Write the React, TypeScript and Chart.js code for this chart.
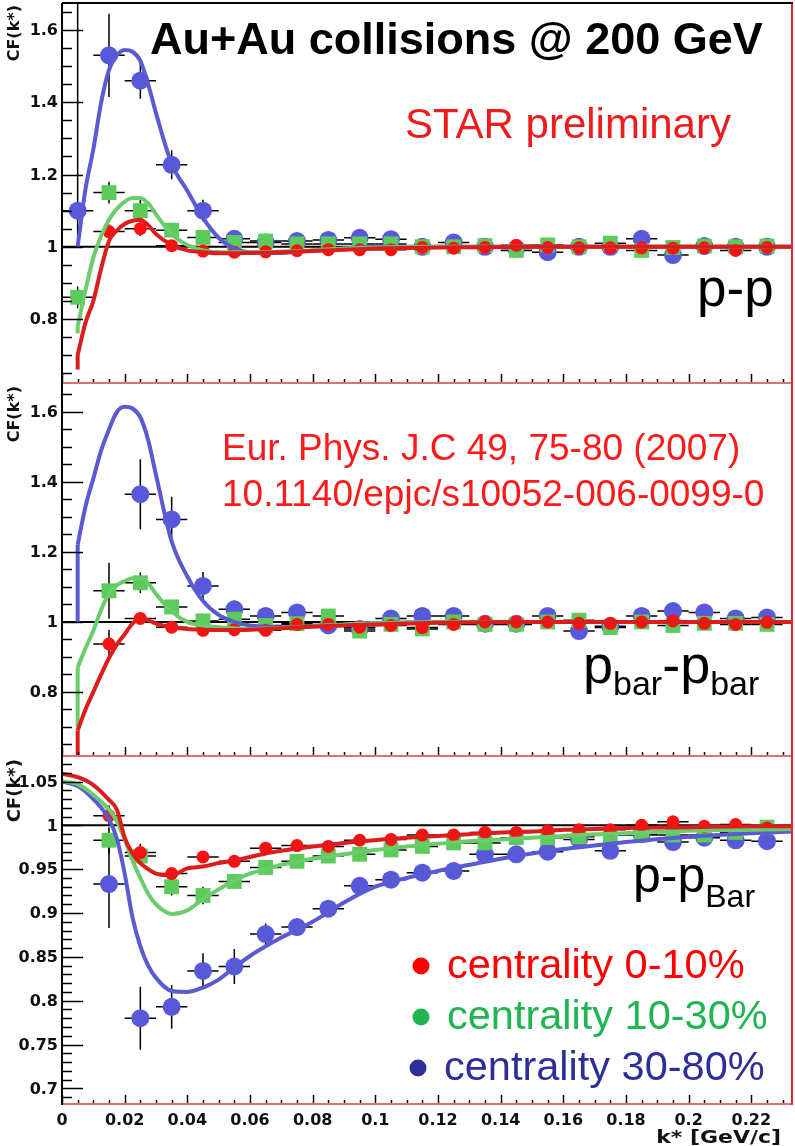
import React, { useEffect, useRef } from 'react';
import { Chart, registerables } from 'chart.js';

Chart.register(...registerables);

// ---------- shared axis data ----------
const K_CENTERS = [0.005, 0.015, 0.025, 0.035, 0.045, 0.055, 0.065, 0.075, 0.085, 0.095, 0.105, 0.115, 0.125, 0.135, 0.145, 0.155, 0.165, 0.175, 0.185, 0.195, 0.205, 0.215, 0.225];
const BIN_HALF_WIDTH = 0.005;
const X_MIN = 0;
const X_MAX = 0.2333;
const X_TICKS = [0, 0.02, 0.04, 0.06, 0.08, 0.1, 0.12, 0.14, 0.16, 0.18, 0.2, 0.22];
const X_TICK_LABELS = ['0', '0.02', '0.04', '0.06', '0.08', '0.1', '0.12', '0.14', '0.16', '0.18', '0.2', '0.22'];
const Y_TICKS_TOP = [0.8, 1, 1.2, 1.4, 1.6];
const Y_TICK_LABELS_TOP = ['0.8', '1', '1.2', '1.4', '1.6'];
const Y_TICKS_BOTTOM = [0.7, 0.75, 0.8, 0.85, 0.9, 0.95, 1, 1.05];
const Y_TICK_LABELS_BOTTOM = ['0.7', '0.75', '0.8', '0.85', '0.9', '0.95', '1', '1.05'];

type Err = number | [number, number];

// ---------- panel 1: p-p ----------
const PP_RED = [null, 1.042, 1.05, 1.003, 0.988, 0.985, 0.986, 0.989, 0.992, 0.992, 0.992, 0.998, 0.996, 0.998, 1.004, 0.998, 0.997, 0.997, 0.997, 0.996, 0.997, 0.99, 0.998];
const PP_RED_ERR: Err[] = [0, 0.02, 0.02, 0.01, 0.006, 0.005, 0.005, 0.005, 0.005, 0.005, 0.005, 0.005, 0.005, 0.005, 0.005, 0.005, 0.005, 0.005, 0.005, 0.005, 0.005, 0.005, 0.005];
const PP_GREEN = [0.86, 1.15, 1.10, 1.046, 1.026, 1.012, 1.016, 1.008, 1.008, 1.008, 1.008, 1.0, 1.0, 1.003, 0.99, 1.005, 1.0, 1.01, 0.99, 0.998, 1.002, 1.0, 1.002];
const PP_GREEN_ERR: Err[] = [0.03, 0.03, 0.03, 0.015, 0.012, 0.008, 0.006, 0.006, 0.006, 0.006, 0.006, 0.006, 0.006, 0.006, 0.006, 0.006, 0.006, 0.006, 0.006, 0.006, 0.006, 0.006, 0.006];
const PP_BLUE = [1.10, 1.53, 1.46, 1.227, 1.10, 1.022, 1.012, 1.016, 1.019, 1.025, 1.021, 1.0, 1.012, 1.0, 0.995, 0.985, 1.0, 1.0, 1.022, 0.977, 1.002, 1.0, 1.0];
const PP_BLUE_ERR: Err[] = [[0.1, 0.6], 0.115, 0.05, 0.04, 0.03, 0.015, 0.008, 0.008, 0.008, 0.008, 0.008, 0.008, 0.008, 0.008, 0.008, 0.008, 0.008, 0.008, 0.008, 0.008, 0.008, 0.008, 0.008];
const PP_CURVE_K = [0.005, 0.0075, 0.01, 0.0125, 0.015, 0.0175, 0.02, 0.0225, 0.025, 0.0275, 0.03, 0.035, 0.04, 0.045, 0.05, 0.055, 0.06, 0.07, 0.08, 0.09, 0.1, 0.12, 0.15, 0.2, 0.2333];
const PP_CURVE_RED = [0.70, 0.79, 0.85, 0.94, 1.016, 1.045, 1.063, 1.072, 1.075, 1.06, 1.035, 1.005, 0.99, 0.985, 0.982, 0.982, 0.983, 0.985, 0.988, 0.992, 0.995, 0.998, 1.0, 1.0, 1.0];
const PP_CURVE_GREEN = [0.78, 0.88, 0.97, 1.03, 1.075, 1.105, 1.125, 1.135, 1.135, 1.12, 1.09, 1.035, 1.005, 0.99, 0.985, 0.985, 0.985, 0.987, 0.99, 0.995, 0.998, 1.0, 1.0, 1.0, 1.0];
const PP_CURVE_BLUE = [1.0, 1.16, 1.27, 1.40, 1.49, 1.53, 1.545, 1.54, 1.515, 1.45, 1.37, 1.23, 1.155, 1.08, 1.025, 0.995, 0.985, 0.983, 0.99, 0.995, 1.0, 1.0, 1.0, 1.0, 1.0];
// lower end of the vertical rise at the first bin [red, green, blue]
const PP_CURVE_START = [0.66, 0.76, 1.0];

// ---------- panel 2: pbar-pbar ----------
const PB_RED = [null, 0.937, 1.01, 0.985, 0.976, 0.978, 0.976, 0.993, 0.993, 0.985, 0.99, 0.984, 0.993, 1.0, 1.0, 1.0, 0.996, 0.996, 1.0, 1.003, 0.996, 0.993, 0.999];
const PB_RED_ERR: Err[] = [0, 0.04, 0.015, 0.008, 0.006, 0.006, 0.006, 0.006, 0.006, 0.006, 0.006, 0.006, 0.006, 0.006, 0.006, 0.006, 0.006, 0.006, 0.006, 0.006, 0.006, 0.006, 0.006];
const PB_GREEN = [null, 1.089, 1.112, 1.043, 1.003, 1.008, 0.99, 0.995, 1.017, 0.974, 0.993, 0.98, 1.0, 0.993, 0.993, 1.0, 1.005, 0.984, 1.0, 0.99, 0.996, 0.996, 0.993];
const PB_GREEN_ERR: Err[] = [0, 0.08, 0.03, 0.02, 0.015, 0.01, 0.008, 0.008, 0.008, 0.02, 0.008, 0.008, 0.008, 0.008, 0.008, 0.008, 0.008, 0.008, 0.008, 0.008, 0.008, 0.008, 0.008];
const PB_BLUE = [null, null, 1.365, 1.293, 1.103, 1.036, 1.017, 1.027, 0.99, 0.98, 1.01, 1.017, 1.017, 0.995, 0.995, 1.017, 0.974, 0.988, 1.017, 1.031, 1.027, 1.01, 1.013];
const PB_BLUE_ERR: Err[] = [0, 0, 0.1, 0.065, 0.04, 0.025, 0.01, 0.01, 0.01, 0.01, 0.01, 0.01, 0.01, 0.01, 0.01, 0.01, 0.01, 0.01, 0.01, 0.01, 0.01, 0.01, 0.01];
const PB_CURVE_K = [0.005, 0.0075, 0.01, 0.0125, 0.015, 0.0175, 0.02, 0.0225, 0.025, 0.0275, 0.03, 0.035, 0.04, 0.045, 0.05, 0.055, 0.06, 0.07, 0.08, 0.09, 0.1, 0.12, 0.15, 0.2, 0.2333];
const PB_CURVE_RED = [0.69, 0.75, 0.80, 0.85, 0.897, 0.935, 0.965, 0.995, 1.012, 1.005, 0.995, 0.985, 0.98, 0.978, 0.977, 0.977, 0.978, 0.982, 0.987, 0.99, 0.993, 0.998, 1.0, 1.0, 1.0];
const PB_CURVE_GREEN = [0.87, 0.925, 0.975, 1.035, 1.08, 1.105, 1.117, 1.125, 1.125, 1.11, 1.08, 1.03, 1.0, 0.99, 0.985, 0.982, 0.98, 0.983, 0.988, 0.993, 0.996, 1.0, 1.0, 1.0, 1.0];
const PB_CURVE_BLUE = [1.22, 1.33, 1.41, 1.49, 1.55, 1.6, 1.615, 1.61, 1.585, 1.52, 1.42, 1.23, 1.13, 1.06, 1.02, 1.0, 0.99, 0.985, 0.987, 0.992, 0.996, 1.0, 1.0, 1.0, 1.0];
const PB_CURVE_START = [0.6, 0.70, 1.0];

// ---------- panel 3: p-pbar ----------
const PAB_RED = [null, 1.011, 0.969, 0.945, 0.964, 0.959, 0.974, 0.977, 0.976, 0.983, 0.984, 0.989, 0.989, 0.992, 0.992, 0.994, 0.995, 0.995, 1.0, 1.004, 0.999, 1.001, 0.997];
const PAB_RED_ERR: Err[] = [0, 0.012, 0.01, 0.006, 0.005, 0.005, 0.004, 0.004, 0.004, 0.004, 0.004, 0.004, 0.004, 0.004, 0.004, 0.004, 0.004, 0.004, 0.004, 0.004, 0.004, 0.004, 0.004];
const PAB_GREEN = [null, 0.983, 0.965, 0.93, 0.92, 0.936, 0.952, 0.959, 0.965, 0.967, 0.972, 0.976, 0.98, 0.98, 0.986, 0.986, 0.987, 0.989, 0.989, 0.989, 0.989, 0.992, 0.998];
const PAB_GREEN_ERR: Err[] = [0, 0.015, 0.01, 0.01, 0.01, 0.006, 0.006, 0.005, 0.005, 0.005, 0.005, 0.005, 0.005, 0.005, 0.005, 0.005, 0.005, 0.005, 0.005, 0.005, 0.005, 0.005, 0.005];
const PAB_BLUE = [null, 0.933, 0.78, 0.793, 0.834, 0.839, 0.876, 0.884, 0.905, 0.931, 0.938, 0.946, 0.948, 0.967, 0.967, 0.97, 0.984, 0.971, 0.99, 0.981, 0.986, 0.983, 0.982];
const PAB_BLUE_ERR: Err[] = [0, 0.05, 0.036, 0.025, 0.02, 0.02, 0.012, 0.01, 0.007, 0.007, 0.007, 0.007, 0.007, 0.007, 0.007, 0.007, 0.007, 0.007, 0.007, 0.007, 0.007, 0.007, 0.007];
const PAB_CURVE_K = [0, 0.005, 0.01, 0.015, 0.0175, 0.02, 0.0225, 0.025, 0.0275, 0.03, 0.035, 0.04, 0.045, 0.05, 0.055, 0.06, 0.065, 0.07, 0.08, 0.09, 0.1, 0.11, 0.12, 0.13, 0.14, 0.15, 0.16, 0.17, 0.18, 0.2, 0.22, 0.2333];
const PAB_CURVE_RED = [1.059, 1.055, 1.046, 1.029, 1.018, 0.986, 0.968, 0.957, 0.95, 0.945, 0.943, 0.951, 0.953, 0.957, 0.96, 0.964, 0.968, 0.971, 0.976, 0.98, 0.983, 0.986, 0.988, 0.99, 0.992, 0.993, 0.995, 0.996, 0.997, 0.998, 0.999, 0.999];
const PAB_CURVE_GREEN = [1.05, 1.047, 1.035, 1.018, 1.005, 0.984, 0.96, 0.94, 0.922, 0.91, 0.899, 0.903, 0.916, 0.927, 0.937, 0.945, 0.95, 0.955, 0.962, 0.967, 0.972, 0.976, 0.979, 0.982, 0.984, 0.986, 0.988, 0.99, 0.991, 0.994, 0.995, 0.996];
const PAB_CURVE_BLUE = [1.05, 1.045, 1.03, 1.007, 0.985, 0.945, 0.895, 0.862, 0.84, 0.826, 0.811, 0.81, 0.815, 0.824, 0.838, 0.851, 0.862, 0.872, 0.89, 0.912, 0.93, 0.94, 0.948, 0.955, 0.962, 0.968, 0.973, 0.977, 0.981, 0.987, 0.991, 0.993];

const LEGEND_LABELS = ['centrality 0-10%', 'centrality 10-30%', 'centrality 30-80%'];

// ---------- styles ----------
const C_RED = '#ff1010';
const C_GREEN = '#5ccb5c';
const C_BLUE = '#5858da';
const L_RED = '#dd1c1c';
const L_GREEN = '#6acc6a';
const L_BLUE = '#5a5ad2';
const AXIS_FONT = 'bold 16px "DejaVu Sans"';
const ANN_FONT = '"Liberation Sans", Arial, sans-serif';

type Pt = { x: number; y: number };
type EPt = { x: number; y: number; e: Err };

function pointsOf(vals: (number | null)[], errs: Err[]) {
  const out: EPt[] = [];
  vals.forEach((v, i) => {
    if (v !== null) out.push({ x: K_CENTERS[i], y: v, e: errs[i] });
  });
  return out;
}
function curveOf(ks: number[], vals: number[]): Pt[] {
  return ks.map((x, i) => ({ x, y: vals[i] }));
}
function riseOf(ks: number[], vals: number[], start: number | undefined): Pt[] {
  if (start === undefined) return [];
  return [{ x: ks[0], y: start }, { x: ks[0], y: vals[0] }];
}

function drawText(ctx: CanvasRenderingContext2D, s: string, x: number, y: number, font: string, color: string, align: CanvasTextAlign = 'left', sx = 1) {
  ctx.save();
  ctx.font = font;
  ctx.fillStyle = color;
  ctx.textAlign = align;
  ctx.textBaseline = 'alphabetic';
  ctx.translate(x, y);
  ctx.scale(sx, 1);
  ctx.fillText(s, 0, 0);
  ctx.restore();
}

function drawParts(ctx: CanvasRenderingContext2D, parts: { t: string; size: number; dy: number }[], x: number, y: number, color: string) {
  let cx = x;
  ctx.save();
  ctx.fillStyle = color;
  ctx.textBaseline = 'alphabetic';
  ctx.textAlign = 'left';
  for (const p of parts) {
    ctx.font = `${p.size}px ${ANN_FONT}`;
    ctx.fillText(p.t, cx, y + p.dy);
    cx += ctx.measureText(p.t).width;
  }
  ctx.restore();
}

interface PanelDef {
  top: number;
  height: number;
  padTop: number;
  padBottom: number;
  yMin: number;
  yMax: number;
  yTicks: number[];
  yTickLabels: string[];
  yMinor: number;
  titleFont: string;
  red: EPt[];
  green: EPt[];
  blue: EPt[];
  cRed: Pt[];
  cGreen: Pt[];
  cBlue: Pt[];
  rRed: Pt[];
  rGreen: Pt[];
  rBlue: Pt[];
  topFrame: boolean;
  xLabels: boolean;
  extras: (ctx: CanvasRenderingContext2D) => void;
}

const PANELS: PanelDef[] = [
  {
    top: 0, height: 385, padTop: 3, padBottom: 1,
    yMin: 0.62, yMax: 1.675, yTicks: Y_TICKS_TOP, yTickLabels: Y_TICK_LABELS_TOP, yMinor: 0.05,
    titleFont: 'bold 16px "DejaVu Sans"',
    red: pointsOf(PP_RED, PP_RED_ERR), green: pointsOf(PP_GREEN, PP_GREEN_ERR), blue: pointsOf(PP_BLUE, PP_BLUE_ERR),
    cRed: curveOf(PP_CURVE_K, PP_CURVE_RED), cGreen: curveOf(PP_CURVE_K, PP_CURVE_GREEN), cBlue: curveOf(PP_CURVE_K, PP_CURVE_BLUE),
    rRed: riseOf(PP_CURVE_K, PP_CURVE_RED, PP_CURVE_START[0]), rGreen: riseOf(PP_CURVE_K, PP_CURVE_GREEN, PP_CURVE_START[1]), rBlue: riseOf(PP_CURVE_K, PP_CURVE_BLUE, PP_CURVE_START[2]),
    topFrame: true, xLabels: false,
    extras: (ctx) => {
      drawText(ctx, 'Au+Au collisions @ 200 GeV', 150, 54, `bold 45px ${ANN_FONT}`, '#000');
      drawText(ctx, 'STAR preliminary', 405, 138, `42px ${ANN_FONT}`, '#ee1c1c');
      drawParts(ctx, [{ t: 'p-p', size: 53, dy: 0 }], 697, 306, '#000');
    },
  },
  {
    top: 384, height: 374, padTop: 0, padBottom: 1,
    yMin: 0.614, yMax: 1.68, yTicks: Y_TICKS_TOP, yTickLabels: Y_TICK_LABELS_TOP, yMinor: 0.05,
    titleFont: 'bold 16px "DejaVu Sans"',
    red: pointsOf(PB_RED, PB_RED_ERR), green: pointsOf(PB_GREEN, PB_GREEN_ERR), blue: pointsOf(PB_BLUE, PB_BLUE_ERR),
    cRed: curveOf(PB_CURVE_K, PB_CURVE_RED), cGreen: curveOf(PB_CURVE_K, PB_CURVE_GREEN), cBlue: curveOf(PB_CURVE_K, PB_CURVE_BLUE),
    rRed: riseOf(PB_CURVE_K, PB_CURVE_RED, PB_CURVE_START[0]), rGreen: riseOf(PB_CURVE_K, PB_CURVE_GREEN, PB_CURVE_START[1]), rBlue: riseOf(PB_CURVE_K, PB_CURVE_BLUE, PB_CURVE_START[2]),
    topFrame: false, xLabels: false,
    extras: (ctx) => {
      drawText(ctx, 'Eur. Phys. J.C 49, 75-80 (2007)', 222, 460, `37px ${ANN_FONT}`, '#ff1a1a');
      drawText(ctx, '10.1140/epjc/s10052-006-0099-0', 222, 506, `37px ${ANN_FONT}`, '#ff1a1a');
      drawParts(ctx, [
        { t: 'p', size: 54, dy: 0 }, { t: 'bar', size: 34, dy: 12 },
        { t: '-p', size: 54, dy: 0 }, { t: 'bar', size: 34, dy: 12 },
      ], 583, 683, '#000');
    },
  },
  {
    top: 757, height: 389, padTop: 0, padBottom: 41,
    yMin: 0.681, yMax: 1.078, yTicks: Y_TICKS_BOTTOM, yTickLabels: Y_TICK_LABELS_BOTTOM, yMinor: 0.01,
    titleFont: 'bold 18px "DejaVu Sans"',
    red: pointsOf(PAB_RED, PAB_RED_ERR), green: pointsOf(PAB_GREEN, PAB_GREEN_ERR), blue: pointsOf(PAB_BLUE, PAB_BLUE_ERR),
    cRed: curveOf(PAB_CURVE_K, PAB_CURVE_RED), cGreen: curveOf(PAB_CURVE_K, PAB_CURVE_GREEN), cBlue: curveOf(PAB_CURVE_K, PAB_CURVE_BLUE),
    rRed: [], rGreen: [], rBlue: [],
    topFrame: false, xLabels: true,
    extras: (ctx) => {
      drawParts(ctx, [{ t: 'p-p', size: 50, dy: 0 }, { t: 'Bar', size: 32, dy: 15 }], 633, 892, '#000');
      const rows = [
        { c: '#ff0000', y: 978, bx: 421, tx: 447 },
        { c: '#1fb550', y: 1029, bx: 421, tx: 447 },
        { c: '#2c2f98', y: 1080, bx: 418, tx: 444 },
      ];
      rows.forEach((r, i) => {
        ctx.save();
        ctx.fillStyle = r.c;
        ctx.beginPath();
        ctx.arc(r.bx, r.y - 12, 8.5, 0, Math.PI * 2);
        ctx.fill();
        ctx.restore();
        drawText(ctx, LEGEND_LABELS[i], r.tx, r.y, `41.5px ${ANN_FONT}`, r.c);
      });
    },
  },
];

function makePlugin(p: PanelDef) {
  return {
    id: 'rootFrame',
    beforeDatasetsDraw(chart: any) {
      const { ctx, chartArea: a, scales } = chart;
      const xs = scales.x, ys = scales.y;
      ctx.save();
      ctx.beginPath();
      ctx.rect(a.left, a.top, a.right - a.left, a.bottom - a.top);
      ctx.clip();
      // y = 1 reference line
      ctx.strokeStyle = '#000';
      ctx.lineWidth = 2;
      const y1 = ys.getPixelForValue(1);
      ctx.beginPath();
      ctx.moveTo(a.left, y1);
      ctx.lineTo(a.right, y1);
      ctx.stroke();
      // error bars
      ctx.lineWidth = 1.5;
      chart.data.datasets.forEach((ds: any) => {
        if (!ds.isPoints) return;
        ds.data.forEach((pt: any) => {
          const lo = Array.isArray(pt.e) ? pt.e[0] : pt.e;
          const hi = Array.isArray(pt.e) ? pt.e[1] : pt.e;
          const px = xs.getPixelForValue(pt.x);
          const py = ys.getPixelForValue(pt.y);
          ctx.beginPath();
          ctx.moveTo(xs.getPixelForValue(pt.x - BIN_HALF_WIDTH), py);
          ctx.lineTo(xs.getPixelForValue(pt.x + BIN_HALF_WIDTH), py);
          if (lo > 0 || hi > 0) {
            ctx.moveTo(px, ys.getPixelForValue(pt.y - lo));
            ctx.lineTo(px, ys.getPixelForValue(pt.y + hi));
          }
          ctx.stroke();
        });
      });
      ctx.restore();
    },
    afterDatasetsDraw(chart: any) {
      const { ctx, chartArea: a, scales } = chart;
      const xs = scales.x, ys = scales.y;
      ctx.save();
      // y ticks
      ctx.strokeStyle = '#000';
      ctx.lineWidth = 1.5;
      const start = Math.ceil((p.yMin - 1e-9) / p.yMinor);
      const end = Math.floor((p.yMax + 1e-9) / p.yMinor);
      for (let i = start; i <= end; i++) {
        const v = i * p.yMinor;
        const isMajor = p.yTicks.some((t) => Math.abs(t - v) < 1e-6);
        const py = Math.round(ys.getPixelForValue(v)) + 0.5;
        ctx.beginPath();
        ctx.moveTo(a.left, py);
        ctx.lineTo(a.left + (isMajor ? 21 : 10), py);
        ctx.stroke();
      }
      // x ticks at panel bottom
      for (let i = 0; i * 0.005 <= X_MAX; i++) {
        const v = i * 0.005;
        const isMajor = i % 4 === 0;
        const px = Math.round(xs.getPixelForValue(v)) + 0.5;
        ctx.beginPath();
        ctx.moveTo(px, a.bottom);
        ctx.lineTo(px, a.bottom - (isMajor ? 10 : 5));
        ctx.stroke();
      }
      // frame
      ctx.lineWidth = 2;
      ctx.strokeStyle = '#e07070';
      ctx.beginPath();
      ctx.moveTo(a.left, a.bottom - 1);
      ctx.lineTo(a.right, a.bottom - 1);
      ctx.stroke();
      ctx.strokeStyle = '#dd2a2a';
      ctx.beginPath();
      ctx.moveTo(a.right - 1, a.top);
      ctx.lineTo(a.right - 1, a.bottom);
      ctx.stroke();
      ctx.strokeStyle = '#000';
      ctx.beginPath();
      ctx.moveTo(a.left, a.top);
      ctx.lineTo(a.left, a.bottom);
      ctx.stroke();
      if (p.topFrame) {
        ctx.beginPath();
        ctx.moveTo(a.left, a.top);
        ctx.lineTo(a.right, a.top);
        ctx.stroke();
      }
      // y tick labels
      ctx.fillStyle = '#111';
      ctx.font = AXIS_FONT;
      ctx.textAlign = 'right';
      ctx.textBaseline = 'middle';
      p.yTicks.forEach((t, i) => {
        ctx.fillText(p.yTickLabels[i], 58, ys.getPixelForValue(t) + 1);
      });
      // axis title (rotated)
      ctx.save();
      ctx.translate(15, a.top + 2);
      ctx.rotate(-Math.PI / 2);
      ctx.font = p.titleFont;
      ctx.textAlign = 'right';
      ctx.textBaseline = 'middle';
      ctx.fillText('CF(k*)', 0, 0);
      ctx.restore();
      // x tick labels
      if (p.xLabels) {
        ctx.textAlign = 'center';
        ctx.textBaseline = 'alphabetic';
        X_TICKS.forEach((t, i) => {
          ctx.fillText(X_TICK_LABELS[i], xs.getPixelForValue(t), a.bottom + 20);
        });
        drawText(ctx, 'k* [GeV/c]', 781, a.bottom + 38, 'bold 18px "DejaVu Sans"', '#111', 'right', 1.22);
      }
      ctx.restore();
      // annotations in page coordinates
      ctx.save();
      ctx.translate(0, -p.top);
      p.extras(ctx);
      ctx.restore();
    },
  };
}

function Panel({ p }: { p: PanelDef }) {
  const ref = useRef<HTMLCanvasElement | null>(null);
  useEffect(() => {
    if (!ref.current) return;
    const pointDs = (data: any[], color: string, style: string, radius: number, order: number) => ({
      type: 'scatter', data, isPoints: true, pointStyle: style, pointRadius: radius,
      backgroundColor: color, borderColor: color, borderWidth: 0, order, showLine: false,
    });
    const curveDs = (data: any[], color: string, order: number, smooth: boolean) => ({
      type: 'scatter', data, showLine: true, borderColor: color, borderWidth: 4,
      pointRadius: 0, tension: smooth ? 0.4 : 0, cubicInterpolationMode: smooth ? 'monotone' : 'default', order, fill: false,
    });
    const chart = new Chart(ref.current, {
      type: 'scatter',
      data: {
        datasets: [
          pointDs(p.blue, C_BLUE, 'circle', 9, 9),
          pointDs(p.green, C_GREEN, 'rect', 10.5, 8),
          pointDs(p.red, C_RED, 'circle', 6.5, 7),
          curveDs(p.rBlue, L_BLUE, 6, false),
          curveDs(p.cBlue, L_BLUE, 5, true),
          curveDs(p.rGreen, L_GREEN, 4, false),
          curveDs(p.cGreen, L_GREEN, 3, true),
          curveDs(p.rRed, L_RED, 2, false),
          curveDs(p.cRed, L_RED, 1, true),
        ] as any,
      },
      options: {
        responsive: false,
        animation: false,
        events: [],
        layout: { autoPadding: false, padding: { left: 62, right: 2, top: p.padTop, bottom: p.padBottom } },
        plugins: { legend: { display: false }, tooltip: { enabled: false } },
        scales: {
          x: { type: 'linear', display: false, min: X_MIN, max: X_MAX },
          y: { type: 'linear', display: false, min: p.yMin, max: p.yMax },
        },
      },
      plugins: [makePlugin(p)],
    } as any);
    return () => chart.destroy();
  }, [p]);
  return (
    <canvas
      ref={ref}
      width={795}
      height={p.height}
      style={{ position: 'absolute', left: 0, top: p.top, width: 795, height: p.height }}
    />
  );
}

export default function App() {
  return (
    <div style={{ position: 'absolute', left: 0, top: 0, width: 795, height: 1146, background: '#fff' }}>
      {PANELS.map((p, i) => (
        <Panel key={i} p={p} />
      ))}
    </div>
  );
}
